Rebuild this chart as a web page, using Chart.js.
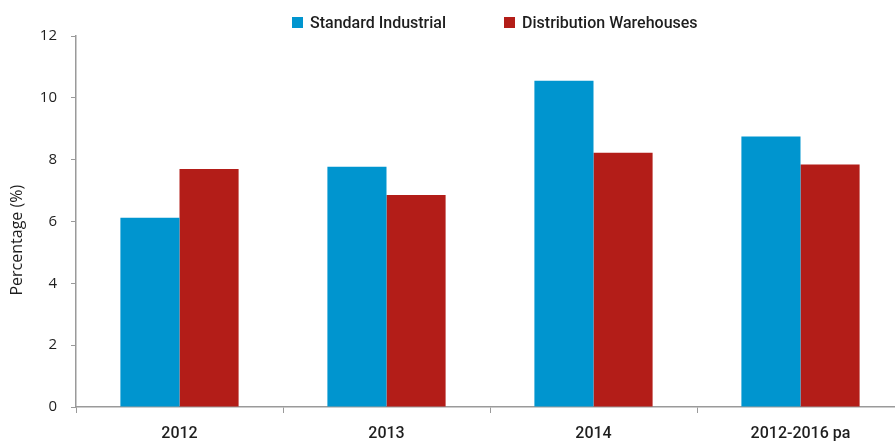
<!DOCTYPE html>
<html>
<head>
<meta charset="utf-8">
<script src="https://cdn.jsdelivr.net/npm/chart.js@4.4.1/dist/chart.umd.min.js"></script>
<style>
  html, body { margin: 0; padding: 0; background: #fff; overflow: hidden; }
  .wrap { position: relative; width: 904px; height: 443px; }
  .legend { position: absolute; top: 13px; left: 292px; display: flex; font: 500 16px Roboto, sans-serif; color: #1e1e1e; }
  .legend span { display: flex; align-items: center; margin-right: 58px; }
  .legend i { display: inline-block; width: 11px; height: 11px; margin-right: 7px; }
</style>
</head>
<body>
<div class="wrap">
  <div class="legend" id="legend"></div>
  <canvas id="chart" width="904" height="443"></canvas>
</div>
<script>
// категории и значения (%)
const labels = ['2012', '2013', '2014', '2012-2016 pa'];
const standardIndustrial = [6.12, 7.77, 10.55, 8.75];
const distributionWarehouses = [7.70, 6.86, 8.22, 7.84];
const yTicks = [0, 2, 4, 6, 8, 10, 12];

const blue = 'rgb(0, 149, 207)';
const red = 'rgb(179, 29, 24)';
const axisGray = '#9a9a9a';

let datasets = [
  { label: 'Standard Industrial', data: standardIndustrial, backgroundColor: blue },
  { label: 'Distribution Warehouses', data: distributionWarehouses, backgroundColor: red }
];

// легенда сверху
let legend = document.getElementById('legend');
datasets.forEach(d => {
  let item = document.createElement('span');
  item.innerHTML = `<i style="background:${d.backgroundColor}"></i>${d.label}`;
  legend.append(item);
});

let ctx = document.getElementById('chart').getContext('2d');
let myChart = new Chart(ctx, {
  type: 'bar',
  data: { labels: labels, datasets: datasets },
  options: {
    responsive: false,
    animation: false,
    layout: { padding: { top: 36, right: 0, left: 0, bottom: 0 } },
    plugins: { legend: { display: false }, tooltip: { enabled: false } },
    datasets: { bar: { categoryPercentage: 0.571, barPercentage: 1.0 } },
    scales: {
      x: {
        grid: { offset: true, drawOnChartArea: false, tickLength: 6, color: axisGray },
        border: { color: axisGray, width: 1.5 },
        ticks: { color: '#1e1e1e', padding: 11, font: { family: 'Roboto', size: 16, weight: '500' } },
        afterFit: s => { s.height = 36; }
      },
      y: {
        min: 0,
        max: 12,
        afterBuildTicks: s => { s.ticks = yTicks.map(v => ({ value: v })); },
        grid: { drawOnChartArea: false, tickLength: 5, color: axisGray },
        border: { color: axisGray, width: 1.5 },
        ticks: { color: '#1e1e1e', padding: 14, font: { family: 'Open Sans', size: 15 } },
        title: {
          display: true,
          text: 'Percentage (%)' + ' '.repeat(9), // хвост из пробелов опускает подпись чуть ниже
          color: '#1e1e1e',
          padding: { top: 8, bottom: 0 },
          font: { family: 'Open Sans', size: 16 }
        },
        afterFit: s => { s.width = 76; }
      }
    }
  }
});
</script>
</body>
</html>
